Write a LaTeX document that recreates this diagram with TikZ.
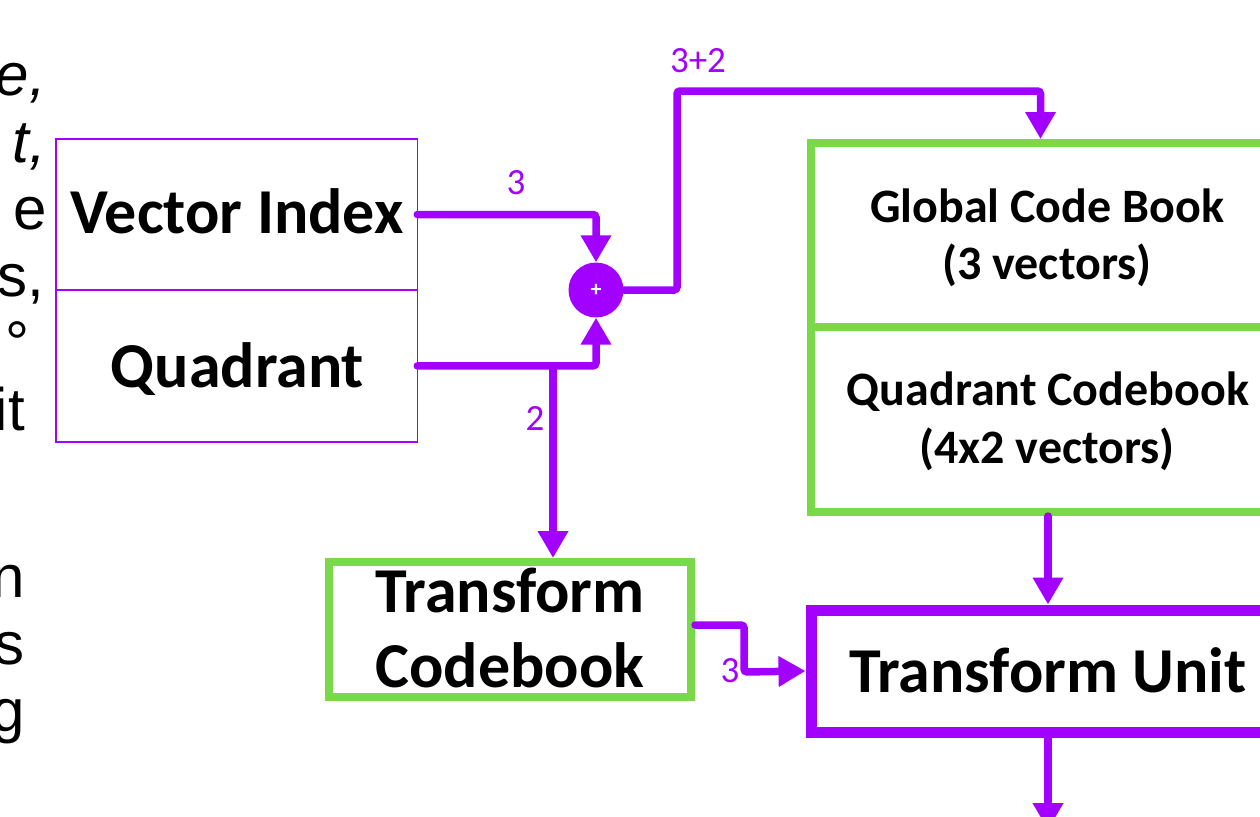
\documentclass[tikz,border=0pt]{standalone}
\usepackage{fontspec}
\setmainfont{Carlito}
\newfontfamily\arialf{Liberation Sans}
\usetikzlibrary{arrows.meta,calc}
\definecolor{vio}{RGB}{162,0,255}
\definecolor{grn}{RGB}{121,217,72}
\tikzset{
  conn/.style={draw=vio,line width=7.5pt,rounded corners=3pt,line cap=round,-{Triangle[length=27pt,width=29pt]}},
  thinbox/.style={draw=vio,line width=1.5pt,inner sep=0pt,outer sep=0pt},
  greenbox/.style={draw=grn,line width=8pt,inner sep=0pt},
  unitbox/.style={draw=vio,line width=11pt,inner sep=0pt},
  bigtxt/.style={font=\bfseries\fontsize{64}{70}\selectfont,anchor=base,inner sep=0pt},
  midtxt/.style={font=\bfseries\fontsize{48}{54}\selectfont,anchor=base,inner sep=0pt},
  lbl/.style={font=\fontsize{37}{40}\selectfont,text=vio,anchor=base,inner sep=0pt},
  frag/.style={font=\arialf\fontsize{60}{66}\selectfont,anchor=base east,inner sep=0pt},
}
\begin{document}
\begin{tikzpicture}[x=1pt,y=-1pt]
\useasboundingbox (0,0) rectangle (1260,816);
\clip (0,0) rectangle (1260,816);
% left text fragments
\node[frag] (f1) at (46,95) {\itshape e,};
\node[frag] (f2) at (46,162) {\itshape t,};
\node[frag] (f3) at (47,229) {e};
\node[frag] (f4) at (44,296) {s,};
\node[frag] (f5) at (30,363) {°};
\node[frag] (f6) at (25,430) {it};
\node[frag] (f7) at (25,597) {n};
\node[frag] (f8) at (25,664) {s};
\node[frag] (f9) at (25,731) {g};
% left boxes
\node[thinbox,minimum width=361.5pt,minimum height=151pt] (vi) at (236.5,214.5) {};
\node[thinbox,minimum width=361.5pt,minimum height=151.7pt] (qd) at (236.5,365.9) {};
\node[bigtxt] (vit) at (237,233) {Vector Index};
\node[bigtxt] (qdt) at (237.5,387) {Quadrant};
% sum
\node[circle,fill=vio,minimum size=55pt,inner sep=0pt,text=white,font=\bfseries\fontsize{22}{22}\selectfont] (sum) at (596,290) {+};
% right boxes
\node[greenbox,minimum width=459pt,minimum height=184pt] (gcb) at (1040.5,235) {};
\node[greenbox,minimum width=459pt,minimum height=185pt] (qcb) at (1040.5,419.5) {};
\node[midtxt] (g1) at (1047,222) {Global Code Book};
\node[midtxt] (g2) at (1047,279) {(3 vectors)};
\node[midtxt] (q1) at (1048,405) {Quadrant Codebook};
\node[midtxt] (q2) at (1047,463) {(4x2 vectors)};
\node[unitbox,minimum width=459pt,minimum height=122pt] (tu) at (1040.5,671) {};
\node[bigtxt] (tut) at (1048,692) {Transform Unit};
\node[greenbox,minimum width=362pt,minimum height=135pt] (tc) at (510,629.5) {};
\node[bigtxt] (tc1) at (510,612) {Transform};
\node[bigtxt] (tc2) at (510,687) {Codebook};
% coordinates
\coordinate (br) at (553,366);
\coordinate (out) at (1048,830);
% connectors
\draw[conn] (vi.east) -| (sum.north);
\draw[conn] (qd.east) -| (sum.south);
\draw[conn] (br) -- (br |- tc.north);
\draw[conn] (sum.east) -| (677,91) -| (gcb.north);
\draw[conn] ($(qcb.south)+(7.5,0)$) -- ($(tu.north)+(7.5,0)$);
\draw[conn] ($(tu.south)+(7.5,0)$) -- (out);
\draw[conn] ($(tc.east)+(0,-4.5)$) -| (744,672) -- (tu.west);
% labels
\node[lbl] (l1) at (516,194) {3};
\node[lbl] (l2) at (698,72) {3+2};
\node[lbl] (l3) at (535,430) {2};
\node[lbl] (l4) at (730,682) {3};
\end{tikzpicture}
\end{document}
